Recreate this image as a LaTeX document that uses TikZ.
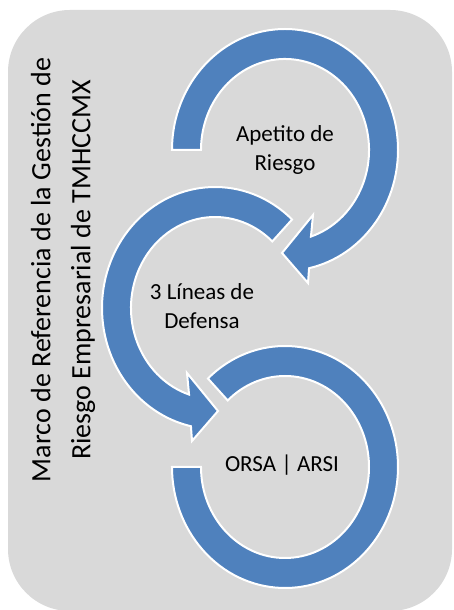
\documentclass[tikz,border=0pt]{standalone}
\usepackage{fontspec}
\setmainfont{Carlito}
\definecolor{bgray}{HTML}{D9D9D9}
\definecolor{ablue}{HTML}{4F81BD}
\tikzset{
  blockarrow/.style={fill=ablue, draw=white, line width=2pt, line join=miter},
  lbl/.style={font=\fontsize{23}{29}\selectfont, align=center, inner sep=0pt, text=black},
  vlbl/.style={font=\fontsize{28}{40}\selectfont, align=center, inner sep=0pt, text=black, rotate=90},
  panel/.style={fill=bgray, rounded corners=62pt}
}
\begin{document}
\begin{tikzpicture}[x=1pt,y=1pt]
\useasboundingbox (0,0) rectangle (453,610);
\path[panel] (8,-1) rectangle (452,600);
\coordinate (c1) at (285,460);
\coordinate (c2) at (215,302);
\coordinate (c3) at (285,143);
% arrow 1
\begin{scope}[shift={(c1)}]
\path[blockarrow] (180:113 and 121) arc[start angle=180, end angle=-77.7, x radius=113, y radius=121]
  -- (23,-133) -- (-3,-103) -- (28,-65) -- (-72:84 and 91)
  arc[start angle=-72, end angle=180, x radius=84, y radius=91] -- cycle;
\end{scope}
% arrow 2
\begin{scope}[shift={(c2)}]
\path[blockarrow] (47:113 and 121) arc[start angle=47, end angle=257.7, x radius=113, y radius=121]
  -- (-23,-133) -- (3,-103) -- (-28,-65) -- (252:84 and 91)
  arc[start angle=252, end angle=47, x radius=84, y radius=91] -- cycle;
\end{scope}
% arrow 3
\begin{scope}[shift={(c3)}]
\path[blockarrow] (133:113 and 121) arc[start angle=133, end angle=-180, x radius=113, y radius=121]
  -- (-180:84 and 91)
  arc[start angle=-180, end angle=133, x radius=84, y radius=91] -- cycle;
\end{scope}
\node[lbl] (t1) at (285,460) {Apetito de\\Riesgo};
\node[lbl] (t2) at (202,304) {3 Líneas de\\Defensa};
\node[lbl] (t3) at (282,145) {ORSA | ARSI};
\node[vlbl] (title) at (63,340) {Marco de Referencia de la Gestión de\\Riesgo Empresarial de TMHCCMX};
\end{tikzpicture}
\end{document}
